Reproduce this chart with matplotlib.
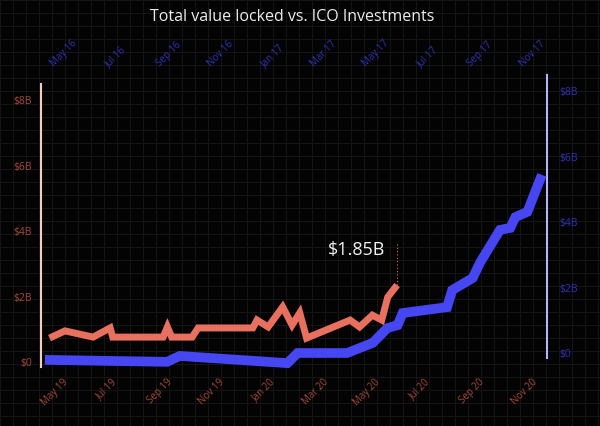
import matplotlib
matplotlib.use("Agg")
import matplotlib.pyplot as plt
import matplotlib.dates as mdates
import pandas as pd
import numpy as np

# ---- data ----
tvl_dates = ["2019-04-25", "2019-05-13", "2019-06-15", "2019-07-05", "2019-07-08",
             "2019-09-05", "2019-09-10", "2019-09-15", "2019-10-09", "2019-10-16",
             "2019-12-19", "2019-12-24", "2020-01-06", "2020-01-23", "2020-02-03",
             "2020-02-12", "2020-02-20", "2020-04-11", "2020-04-22", "2020-05-07",
             "2020-05-18", "2020-05-25", "2020-06-05"]
tvl_values = [0.73, 0.95, 0.76, 1.04, 0.76, 0.76, 1.07, 0.76, 0.76, 1.04,
              1.04, 1.28, 1.07, 1.68, 1.13, 1.50, 0.73, 1.28, 1.07, 1.43,
              1.28, 1.98, 2.35]

ico_dates = ["2016-04-09", "2016-08-30", "2016-09-14", "2017-01-18", "2017-01-30",
             "2017-03-29", "2017-04-28", "2017-05-15", "2017-05-27", "2017-06-02",
             "2017-07-24", "2017-07-30", "2017-08-23", "2017-09-01", "2017-09-24",
             "2017-10-06", "2017-10-12", "2017-10-26", "2017-11-12"]
ico_values = [-0.21, -0.27, -0.09, -0.31, 0.0, 0.0, 0.31, 0.76, 0.85, 1.22,
              1.40, 1.92, 2.29, 2.78, 3.76, 3.82, 4.15, 4.31, 5.44]

y_ticks = [0, 2, 4, 6, 8]
y_ticklabels = ["$0", "$2B", "$4B", "$6B", "$8B"]
title = "Total value locked vs. ICO Investments"
annotation = "$1.85B"

# ---- style ----
FONT = ["Open Sans", "DejaVu Sans"]
plt.rcParams["font.family"] = FONT
BG = "#030303"
RED = "#E8705E"
BLUE = "#4646F2"
RED_LBL = "#A24A38"
BLUE_LBL = "#3232B0"

W, H = 600, 426
fig = plt.figure(figsize=(6, 4.26), dpi=100, facecolor=BG)

# background grid over the whole figure
bg = fig.add_axes([0, 0, 1, 1], zorder=0)
bg.set_facecolor(BG)
bg.set_xlim(0, W)
bg.set_ylim(H, 0)
for s in bg.spines.values():
    s.set_visible(False)
bg.set_xticks(np.arange(0, W, 13))
bg.set_yticks(np.arange(0, H, 13))
bg.tick_params(length=0, labelbottom=False, labelleft=False)
bg.grid(True, color="#141414", linewidth=0.8)

td = pd.to_datetime(tvl_dates)
idt = pd.to_datetime(ico_dates)

# TVL axes (left / bottom)
ax1 = fig.add_axes([41 / W, 1 - 367 / H, 497 / W, 283 / H], zorder=2)
ax1.patch.set_alpha(0)
x0 = pd.Timestamp("2019-04-15")
ax1.set_xlim(x0, x0 + pd.Timedelta(days=582))
ax1.set_ylim(-0.153, 8.49)
ax1.plot(td, tvl_values, color=RED, linewidth=5, solid_joinstyle="miter",
         solid_capstyle="butt", zorder=3)

# ICO axes (right / top)
ax2 = fig.add_axes([50 / W, 1 - 358 / H, 497 / W, 283 / H], zorder=1)
ax2.patch.set_alpha(0)
x1 = pd.Timestamp("2016-04-15")
ax2.set_xlim(x1, x1 + pd.Timedelta(days=582))
ax2.set_ylim(-0.153, 8.49)
ax2.plot(idt, ico_values, color=BLUE, linewidth=7, solid_joinstyle="miter",
         solid_capstyle="butt", clip_on=False, zorder=3)

for ax in (ax1, ax2):
    ax.xaxis.set_major_locator(mdates.MonthLocator(bymonth=(1, 3, 5, 7, 9, 11)))
    ax.xaxis.set_major_formatter(mdates.DateFormatter("%b %y"))
    ax.set_yticks(y_ticks)
    ax.set_yticklabels(y_ticklabels)
    for s in ax.spines.values():
        s.set_visible(False)

ax1.spines["left"].set_visible(True)
ax1.spines["left"].set_color("#F3CDBF")
ax1.spines["left"].set_linewidth(1.5)
ax1.tick_params(axis="y", length=0, pad=6.5, labelsize=7.5, labelcolor=RED_LBL)
ax1.tick_params(axis="x", length=0, pad=7, labelsize=7, labelcolor=RED_LBL)
for lbl in ax1.get_xticklabels():
    lbl.set_rotation(45)
    lbl.set_ha("center")

ax2.spines["right"].set_visible(True)
ax2.spines["right"].set_color("#B4B4FF")
ax2.spines["right"].set_linewidth(1.5)
ax2.yaxis.tick_right()
ax2.xaxis.tick_top()
ax2.tick_params(axis="y", length=0, pad=9, labelsize=7.5, labelcolor=BLUE_LBL)
ax2.tick_params(axis="x", length=0, pad=4, labelsize=7, labelcolor=BLUE_LBL)
for lbl in ax2.get_xticklabels():
    lbl.set_rotation(45)
    lbl.set_ha("center")

# annotation
last_d, last_v = td[-1], tvl_values[-1]
ax1.plot([last_d, last_d], [last_v, 3.66], color=RED, linestyle=(0, (1, 2)),
         linewidth=0.8, zorder=3)
ax1.text(pd.Timestamp("2020-04-19"), 3.42, annotation, color="#F2F2F2",
         fontsize=13, ha="center", va="center", zorder=4)

fig.text(292 / W, 1 - 17 / H, title, color="#EDEDED", fontsize=11.5,
         ha="center", va="center")

fig.savefig("out.png", dpi=100, facecolor=BG)
